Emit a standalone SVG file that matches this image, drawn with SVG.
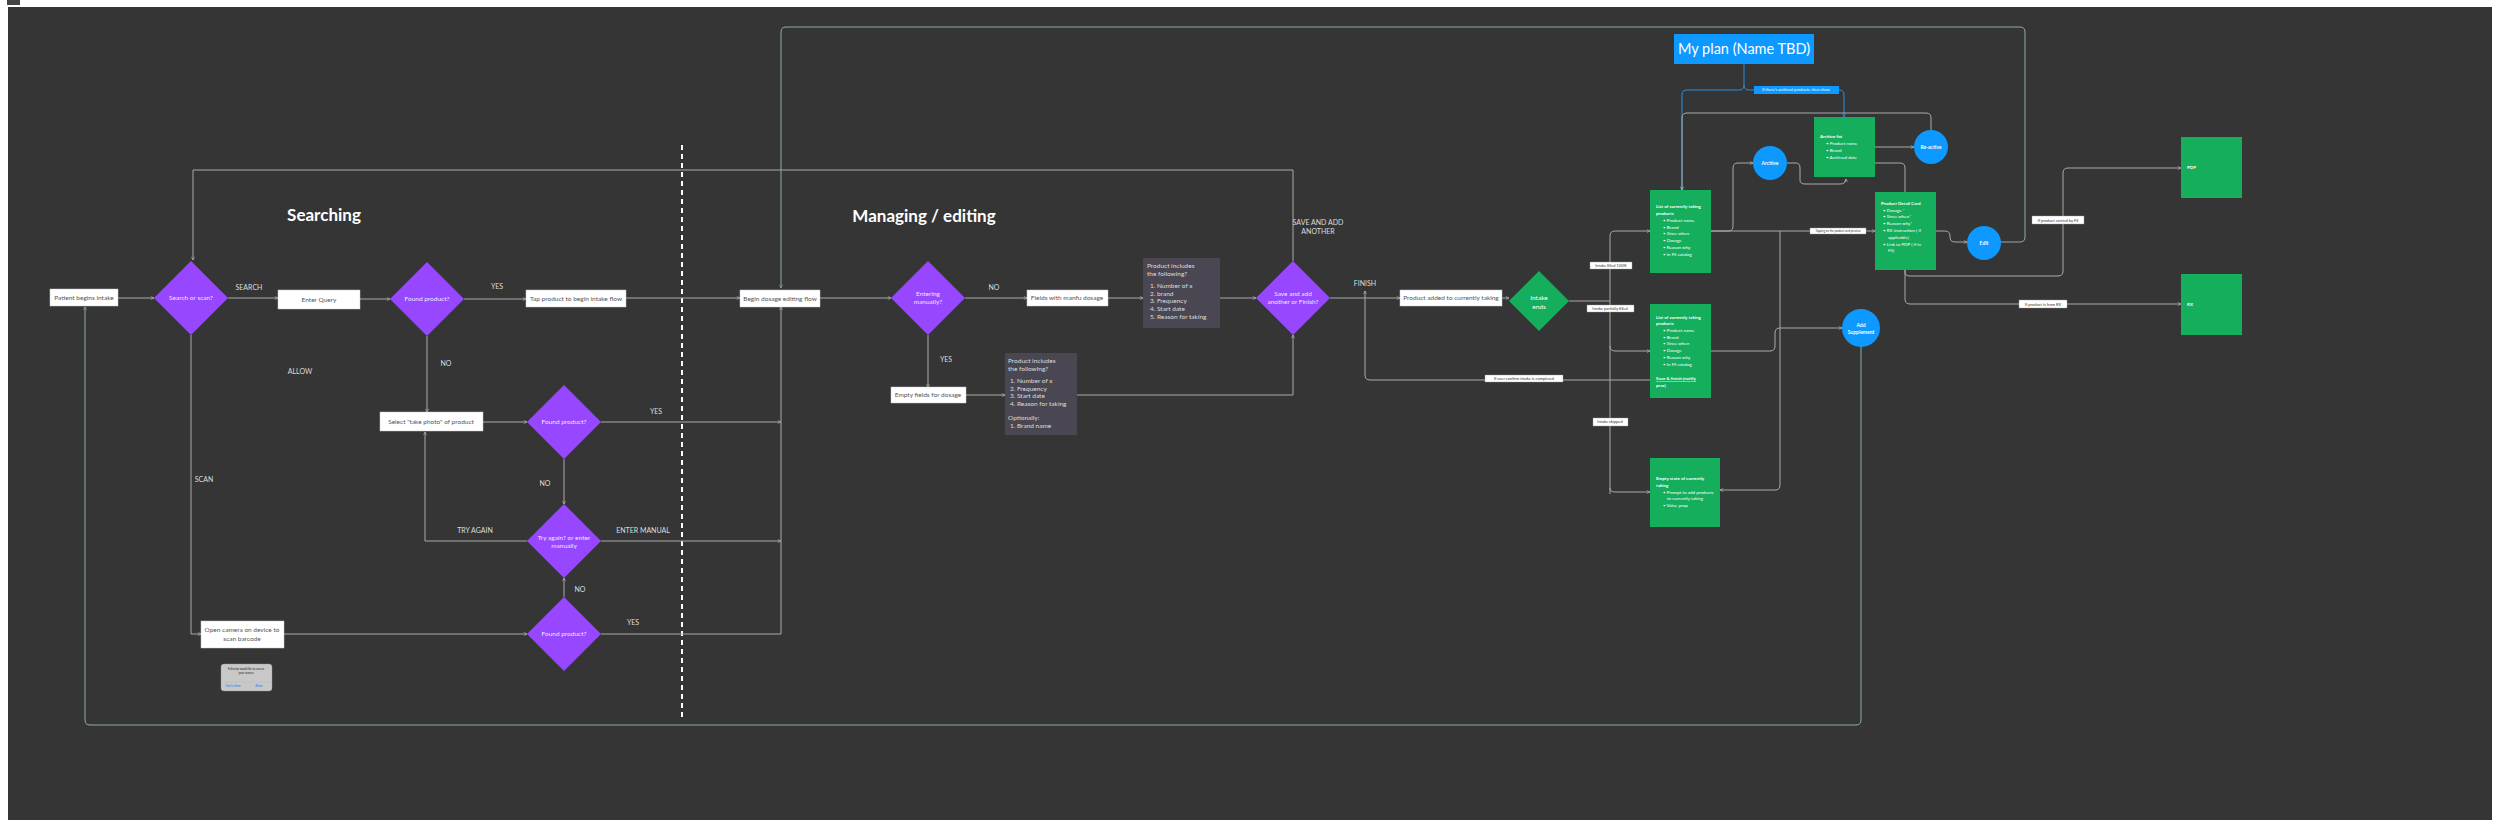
<svg xmlns="http://www.w3.org/2000/svg" width="2500" height="827" viewBox="0 0 2500 827">
<defs>
<marker id="a" viewBox="0 0 10 10" refX="9" refY="5" markerWidth="4" markerHeight="4" orient="auto"><path d="M1,1 L9,5 L1,9" fill="none" stroke="#bbb" stroke-width="1.5"/></marker>
<marker id="ab" viewBox="0 0 10 10" refX="9" refY="5" markerWidth="4" markerHeight="4" orient="auto"><path d="M1,1 L9,5 L1,9" fill="none" stroke="#2a90e0" stroke-width="1.5"/></marker>
<marker id="ag" viewBox="0 0 10 10" refX="9" refY="5" markerWidth="4" markerHeight="4" orient="auto"><path d="M1,1 L9,5 L1,9" fill="none" stroke="#8fb0a0" stroke-width="1.5"/></marker>
</defs>
<style>
text{font-family:Lato,"Liberation Sans",sans-serif}
.box{fill:#fff;stroke:#ccc;stroke-width:0.5}
.bt{font-size:6.5px;fill:#555;text-anchor:middle}
.dia{fill:#9747ff}
.dt{font-size:6.5px;fill:#f0e6ff;text-anchor:middle}
.lab{font-size:7px;fill:#ddd;text-anchor:middle}
.ttl{font-size:17px;fill:#fff;font-weight:bold;text-anchor:middle}
.gray{fill:#4a4752}
.gt{font-size:6.5px;fill:#ddd}
.grn{fill:#14ae5c}
.wt{font-size:4.5px;fill:#fff}
.wb{font-size:4.5px;fill:#fff;font-weight:bold}
.circ{fill:#0d99ff}
.ct{font-size:5px;fill:#fff;font-weight:bold;text-anchor:middle}
.tag{fill:#fff;stroke:#999;stroke-width:0.4}
.tt{font-size:4px;fill:#333;text-anchor:middle}
.c{fill:none;stroke:#aaa;stroke-width:1;marker-end:url(#a)}
.cn{fill:none;stroke:#aaa;stroke-width:1}
.cg{fill:none;stroke:#8fb0a0;stroke-width:1}
.cb{fill:none;stroke:#2a90e0;stroke-width:1}
</style>
<rect width="2500" height="827" fill="#fff"/>
<rect x="7" y="0" width="13" height="5" fill="#444"/>
<rect x="8" y="7" width="2484" height="813" fill="#353535"/>
<line x1="682" y1="145" x2="682" y2="717" stroke="#fff" stroke-width="2" stroke-dasharray="5,4"/>
<text class="ttl" x="324" y="221">Searching</text>
<text class="ttl" x="924" y="222">Managing / editing</text>

<g id="connectors">
<path class="c" d="M118,298 H154"/>
<path class="c" d="M228,298 H278"/>
<path class="c" d="M360,299 H390"/>
<path class="c" d="M464,299 H526"/>
<path class="c" d="M626,298 H740"/>
<path class="c" d="M820,298 H891"/>
<path class="c" d="M965,298 H1027"/>
<path class="c" d="M1108,298 H1143"/>
<path class="c" d="M1220,298 H1256"/>
<path class="c" d="M1330,298 H1400"/>
<path class="c" d="M1502,298 H1509"/>
<path class="c" d="M191,335 V634 H201"/>
<path class="c" d="M427,336 V412"/>
<path class="c" d="M483,422 H527"/>
<path class="c" d="M601,422 H781"/>
<path class="c" d="M564,459 V504"/>
<path class="c" d="M527,541 H425 V432"/>
<path class="c" d="M601,541 H781"/>
<path class="c" d="M564,597 V578"/>
<path class="c" d="M284,634 H527"/>
<path class="c" d="M601,634 H781 V307"/>
<path class="c" d="M928,335 V387"/>
<path class="c" d="M966,395 H1005"/>
<path class="c" d="M1077,395 H1293 V335"/>
<path class="c" d="M1293,261 V170 H193 V260"/>
<path class="cg" d="M1984,242 H2020 Q2025,242 2025,237 V32 Q2025,27 2020,27 H786 Q781,27 781,32 V288" marker-end="url(#ag)"/>
<path class="cg" d="M1861,347 V720 Q1861,725 1856,725 H90 Q85,725 85,720 V307" marker-end="url(#ag)"/>
<path class="cn" d="M1569,301 H1610"/>
<path class="c" d="M1610,494 V236 Q1610,231 1615,231 H1650"/>
<path class="c" d="M1610,346 Q1610,351 1615,351 H1650"/>
<path class="c" d="M1610,488 Q1610,492 1615,492 H1650"/>
<path class="c" d="M1682,397 V385 Q1682,380 1677,380 H1370 Q1365,380 1365,375 V291"/>
<path class="cb" d="M1744,64 V85 Q1744,90 1739,90 H1687 Q1682,90 1682,95 V190" marker-end="url(#ab)"/>
<path class="cb" d="M1744,85 Q1744,90 1749,90 H1839 Q1844,90 1844,95 V117" marker-end="url(#ab)"/>
<path class="c" d="M1931,130 V118 Q1931,113 1926,113 H1687 Q1682,113 1682,118 V190"/>
<path class="c" d="M1711,231 H1728 Q1733,231 1733,226 V168 Q1733,163 1738,163 H1753"/>
<path class="c" d="M1787,163 H1796 Q1800,163 1800,168 V180 Q1800,184 1805,184 H1840 Q1846,184 1846,179"/>
<path class="c" d="M1875,147 H1914"/>
<path class="cn" d="M1875,163 H1900 Q1905,163 1905,168 V192"/>
<path class="c" d="M1711,231 H1875"/>
<path class="c" d="M1936,231 H1945 Q1950,231 1950,236 V237 Q1950,242 1955,242 H1967"/>
<path class="c" d="M1780,231 V485 Q1780,490 1775,490 H1720"/>
<path class="c" d="M1711,351 H1770 Q1775,351 1775,346 V333 Q1775,328 1780,328 H1842"/>
<path class="c" d="M1905,270 V272 Q1905,276 1910,276 H2058 Q2063,276 2063,271 V173 Q2063,168 2068,168 H2181"/>
<path class="c" d="M1905,270 V299 Q1905,304 1910,304 H2181"/>
</g>

<g id="n1"><rect class="box" x="50" y="289" width="68" height="17"/><text class="bt" x="84" y="300">Patient begins intake</text></g>
<g id="n2"><path class="dia" d="M191,261 L228,298 L191,335 L154,298Z"/><text class="dt" x="191" y="300">Search or scan?</text></g>
<text class="lab" x="249" y="290">SEARCH</text>
<text class="lab" x="300" y="374">ALLOW</text>
<text class="lab" x="204" y="482">SCAN</text>
<g id="n3"><rect class="box" x="278" y="290" width="82" height="19"/><text class="bt" x="319" y="302">Enter Query</text></g>
<g id="n4"><path class="dia" d="M427,262 L464,299 L427,336 L390,299Z"/><text class="dt" x="427" y="301">Found product?</text></g>
<text class="lab" x="497" y="289">YES</text>
<text class="lab" x="446" y="366">NO</text>
<g id="n5"><rect class="box" x="526" y="290" width="100" height="17"/><text class="bt" x="576" y="301">Tap product to begin intake flow</text></g>
<g id="n6"><rect class="box" x="380" y="412" width="103" height="19"/><text class="bt" x="431" y="424">Select "take photo" of product</text></g>
<g id="n7"><path class="dia" d="M564,385 L601,422 L564,459 L527,422Z"/><text class="dt" x="564" y="424">Found product?</text></g>
<text class="lab" x="656" y="414">YES</text>
<text class="lab" x="545" y="486">NO</text>
<g id="n8"><path class="dia" d="M564,504 L601,541 L564,578 L527,541Z"/><text class="dt" x="564" y="540">Try again? or enter</text><text class="dt" x="564" y="548">manually</text></g>
<text class="lab" x="475" y="533">TRY AGAIN</text>
<text class="lab" x="643" y="533">ENTER MANUAL</text>
<text class="lab" x="580" y="592">NO</text>
<g id="n9"><path class="dia" d="M564,597 L601,634 L564,671 L527,634Z"/><text class="dt" x="564" y="636">Found product?</text></g>
<text class="lab" x="633" y="625">YES</text>
<g id="n10"><rect class="box" x="201" y="621" width="83" height="27"/><text class="bt" x="242" y="632">Open camera on device to</text><text class="bt" x="242" y="641">scan barcode</text></g>
<g id="n11"><rect x="221" y="664" width="51" height="27" rx="3" fill="#c8c8c8" stroke="#999" stroke-width="0.4"/><text x="246" y="670" font-size="2.8" fill="#222" text-anchor="middle">Fullscript would like to access</text><text x="246" y="674" font-size="2.8" fill="#222" text-anchor="middle">your camera</text><line x1="221" y1="682" x2="272" y2="682" stroke="#aaa" stroke-width="0.3"/><text x="233" y="687" font-size="3" fill="#2a7de1" text-anchor="middle">Don't allow</text><text x="259" y="687" font-size="3" fill="#2a7de1" text-anchor="middle">Allow</text></g>
<g id="n12"><rect class="box" x="740" y="290" width="80" height="17"/><text class="bt" x="780" y="301">Begin dosage editing flow</text></g>
<g id="n13"><path class="dia" d="M928,261 L965,298 L928,335 L891,298Z"/><text class="dt" x="928" y="296">Entering</text><text class="dt" x="928" y="304">manually?</text></g>
<text class="lab" x="994" y="290">NO</text>
<text class="lab" x="946" y="362">YES</text>
<g id="n14"><rect class="box" x="1027" y="290" width="81" height="16"/><text class="bt" x="1067" y="300">Fields with manfu dosage</text></g>
<g id="n15"><rect class="box" x="891" y="387" width="75" height="16"/><text class="bt" x="928" y="397">Empty fields for dosage</text></g>
<g id="n16"><rect class="gray" x="1143" y="258" width="77" height="70" rx="1"/>
<text class="gt" x="1147" y="268">Product includes</text><text class="gt" x="1147" y="276">the following?</text>
<text class="gt" x="1150" y="288">1. Number of x</text><text class="gt" x="1150" y="296">2. brand</text><text class="gt" x="1150" y="303">3. Frequency</text><text class="gt" x="1150" y="311">4. Start date</text><text class="gt" x="1150" y="319">5. Reason for taking</text></g>
<g id="n17"><rect class="gray" x="1005" y="353" width="72" height="82" rx="1"/>
<text class="gt" x="1008" y="363">Product includes</text><text class="gt" x="1008" y="371">the following?</text>
<text class="gt" x="1010" y="383">1. Number of x</text><text class="gt" x="1010" y="391">2. Frequency</text><text class="gt" x="1010" y="398">3. Start date</text><text class="gt" x="1010" y="406">4. Reason for taking</text>
<text class="gt" x="1008" y="420">Optionally:</text><text class="gt" x="1010" y="428">1. Brand name</text></g>
<g id="n18"><path class="dia" d="M1293,261 L1330,298 L1293,335 L1256,298Z"/><text class="dt" x="1293" y="296">Save and add</text><text class="dt" x="1293" y="304">another or Finish?</text></g>
<text class="lab" x="1318" y="225">SAVE AND ADD</text><text class="lab" x="1318" y="234">ANOTHER</text>
<text class="lab" x="1365" y="286">FINISH</text>
<g id="n19"><rect class="box" x="1400" y="290" width="102" height="16"/><text class="bt" x="1451" y="300">Product added to currently taking</text></g>
<g id="n20"><path d="M1539,271 L1569,301 L1539,331 L1509,301Z" fill="#14ae5c"/><text x="1539" y="300" font-size="6.5" fill="#fff" text-anchor="middle">Intake</text><text x="1539" y="309" font-size="6.5" fill="#fff" text-anchor="middle">ends</text></g>

<g id="tags">
<rect class="tag" x="1590" y="262" width="42" height="7"/><text class="tt" x="1611" y="267">Intake filled 100%</text>
<rect class="tag" x="1587" y="305" width="47" height="7"/><text class="tt" x="1610" y="310">Intake partially filled</text>
<rect class="tag" x="1593" y="418" width="35" height="8"/><text class="tt" x="1610" y="423">Intake skipped</text>
<rect class="tag" x="1485" y="375" width="78" height="7"/><text class="tt" x="1524" y="380">If user confirm intake is completed</text>
<rect class="tag" x="1810" y="228" width="56" height="6"/><text x="1838" y="232" font-size="2.8" fill="#333" text-anchor="middle">Tapping on the product card preview</text>
<rect class="tag" x="2032" y="216" width="52" height="8"/><text class="tt" x="2058" y="222">If product carried by FS</text>
<rect class="tag" x="2019" y="300" width="48" height="8"/><text class="tt" x="2043" y="306">If product is from RX</text>
<rect x="1754" y="86" width="85" height="8" fill="#0d99ff"/><text x="1796" y="91" font-size="4" fill="#fff" text-anchor="middle">If there's archived products, then show</text>
</g>

<g id="n21"><rect x="1674" y="34" width="140" height="30" fill="#0d99ff"/><text x="1744" y="54" font-size="14.5" fill="#fff" text-anchor="middle">My plan (Name TBD)</text></g>
<g id="n22"><rect class="grn" x="1650" y="190" width="61" height="83"/>
<text class="wb" x="1656" y="208">List of currently taking</text><text class="wb" x="1656" y="215">products</text>
<text class="wt" x="1663" y="222">• Product name</text><text class="wt" x="1663" y="229">• Brand</text><text class="wt" x="1663" y="235">• Since when</text><text class="wt" x="1663" y="242">• Dosage</text><text class="wt" x="1663" y="249">• Reason why</text><text class="wt" x="1663" y="256">• In FS catalog</text></g>
<g id="n23"><circle class="circ" cx="1770" cy="163" r="17"/><text class="ct" x="1770" y="165">Archive</text></g>
<g id="n24"><rect class="grn" x="1814" y="117" width="61" height="60"/>
<text class="wb" x="1820" y="138">Archive list</text><text class="wt" x="1826" y="145">• Product name</text><text class="wt" x="1826" y="152">• Brand</text><text class="wt" x="1826" y="159">• Archived date</text></g>
<g id="n25"><circle class="circ" cx="1931" cy="147" r="17"/><text class="ct" x="1931" y="149">Re-active</text></g>
<g id="n26"><rect class="grn" x="1875" y="192" width="61" height="78"/>
<text class="wb" x="1881" y="205">Product Detail Card</text><text class="wt" x="1883" y="212">• Dosage *</text><text class="wt" x="1883" y="218">• Since when*</text><text class="wt" x="1883" y="225">• Reason why*</text><text class="wt" x="1883" y="232">• RX instruction ( if</text><text class="wt" x="1888" y="239">applicable)</text><text class="wt" x="1883" y="246">• Link to PDP ( if in</text><text class="wt" x="1888" y="252">FS)</text></g>
<g id="n27"><circle class="circ" cx="1984" cy="243" r="17"/><text class="ct" x="1984" y="245">Edit</text></g>
<g id="n28"><rect class="grn" x="2181" y="137" width="61" height="61"/><text class="wb" x="2187" y="169">PDP</text></g>
<g id="n29"><rect class="grn" x="2181" y="274" width="61" height="61"/><text class="wb" x="2187" y="306">RX</text></g>
<g id="n30"><rect class="grn" x="1650" y="304" width="61" height="94"/>
<text class="wb" x="1656" y="319">List of currently taking</text><text class="wb" x="1656" y="325">products</text>
<text class="wt" x="1663" y="332">• Product name</text><text class="wt" x="1663" y="339">• Brand</text><text class="wt" x="1663" y="345">• Since when</text><text class="wt" x="1663" y="352">• Dosage</text><text class="wt" x="1663" y="359">• Reason why</text><text class="wt" x="1663" y="366">• In FS catalog</text>
<text class="wb" x="1656" y="380" text-decoration="underline">Save &amp; finish (notify</text><text class="wb" x="1656" y="387">prac)</text></g>
<g id="n31"><circle class="circ" cx="1861" cy="328" r="19"/><text class="ct" x="1861" y="327">Add</text><text class="ct" x="1861" y="334">Supplement</text></g>
<g id="n32"><rect class="grn" x="1650" y="458" width="70" height="69"/>
<text class="wb" x="1656" y="480">Empty state of currently</text><text class="wb" x="1656" y="487">taking</text><text class="wt" x="1663" y="494">• Prompt to add products</text><text class="wt" x="1667" y="500">to currently taking</text><text class="wt" x="1663" y="507">• Value prop</text></g>
</svg>
